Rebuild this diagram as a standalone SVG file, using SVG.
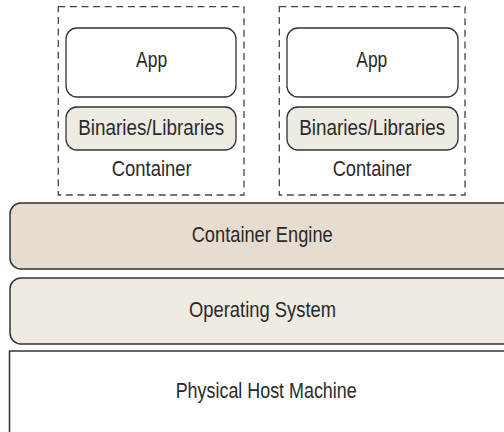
<svg xmlns="http://www.w3.org/2000/svg" width="504" height="432" viewBox="0 0 504 432">
<style>
.dash{fill:none;stroke:#444;stroke-width:1.3;stroke-dasharray:7 4.6}
.box{stroke:#333;stroke-width:1.3}
.layer{stroke:#333;stroke-width:1.5}
text{font-family:"Liberation Sans",Arial,sans-serif;font-size:21.5px;fill:#2a2a2a;text-anchor:middle}
</style>
<rect width="504" height="432" fill="#fff"/>
<g id="container1">
<rect class="dash" x="58.3" y="6.7" width="185.7" height="188.3"/>
<g id="app1"><rect class="box" x="66" y="28" width="170" height="69" rx="11" fill="#fff"/><text x="151.6" y="67" textLength="31" lengthAdjust="spacingAndGlyphs">App</text></g>
<g id="bin1"><rect class="box" x="66" y="107" width="170" height="43" rx="11" fill="#eeebe2"/><text x="151.2" y="135" textLength="146" lengthAdjust="spacingAndGlyphs">Binaries/Libraries</text></g>
<text x="151.7" y="176" textLength="80" lengthAdjust="spacingAndGlyphs">Container</text>
</g>
<g id="container2">
<rect class="dash" x="279.3" y="6.7" width="185.7" height="188.3"/>
<g id="app2"><rect class="box" x="287" y="28" width="171" height="69" rx="11" fill="#fff"/><text x="371.8" y="67" textLength="31" lengthAdjust="spacingAndGlyphs">App</text></g>
<g id="bin2"><rect class="box" x="287" y="107" width="171" height="43" rx="11" fill="#eeebe2"/><text x="372.2" y="135" textLength="146" lengthAdjust="spacingAndGlyphs">Binaries/Libraries</text></g>
<text x="372.2" y="176" textLength="79" lengthAdjust="spacingAndGlyphs">Container</text>
</g>
<g id="engine"><rect class="layer" x="10" y="203" width="510" height="66" rx="11" fill="#e6ddd0"/><text x="262.2" y="241.5" textLength="141" lengthAdjust="spacingAndGlyphs">Container Engine</text></g>
<g id="os"><rect class="layer" x="10" y="278" width="510" height="66" rx="11" fill="#efebe1"/><text x="262.5" y="316.5" textLength="147" lengthAdjust="spacingAndGlyphs">Operating System</text></g>
<g id="host"><rect class="layer" x="9.5" y="351" width="510" height="100" fill="#fff"/><text x="266.2" y="398" textLength="181" lengthAdjust="spacingAndGlyphs">Physical Host Machine</text></g>
<g id="connectors"/>
</svg>
